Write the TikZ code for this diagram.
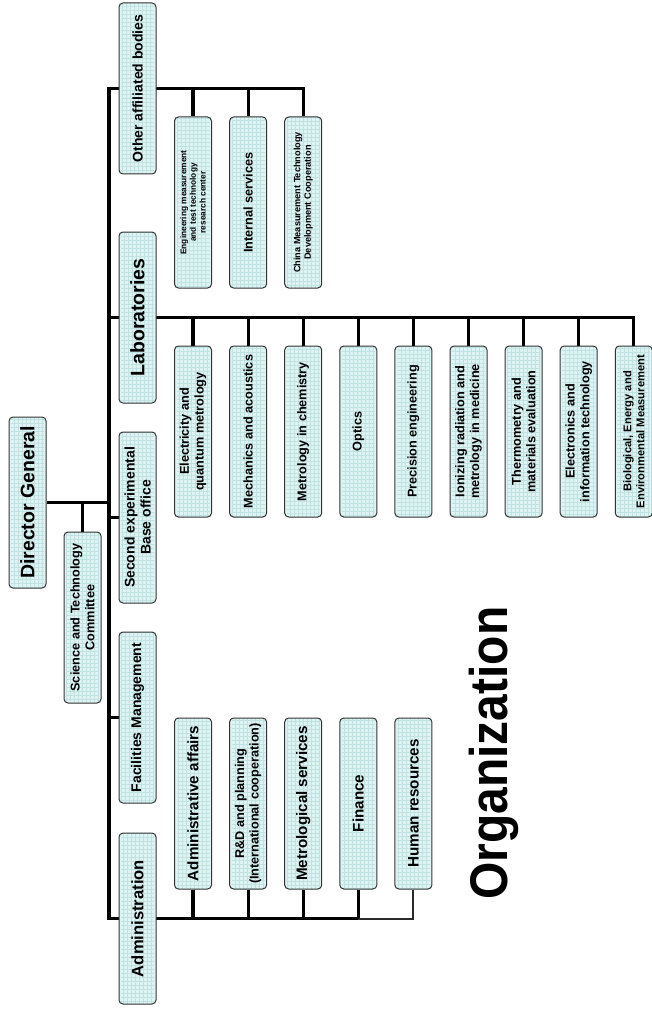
\documentclass[tikz,border=0pt]{standalone}
\usepackage{fontspec}
\usepackage{graphicx}
\setmainfont{Liberation Sans}
\usetikzlibrary{calc}
\pgfdeclarelayer{background}
\pgfsetlayers{background,main}
\definecolor{boxfill}{HTML}{E0F3F3}
\definecolor{gridc}{HTML}{BFE3E3}
\definecolor{boxline}{HTML}{333333}
\definecolor{thinline}{HTML}{2A2A2A}
\tikzset{
  orgbox/.style={rotate=90, draw=boxline, line width=1pt, rounded corners=4pt,
    fill=boxfill, minimum width=171pt, minimum height=37pt, inner sep=1pt,
    align=center, text=black,
    path picture={\draw[gridc, line width=0.3pt, step=4pt]
      ([shift={(-2pt,-2pt)}]path picture bounding box.south west) grid
      ([shift={(2pt,2pt)}]path picture bounding box.north east);}},
  fbig/.style={font=\bfseries\fontsize{19.5}{22}\selectfont},
  fmid/.style={font=\bfseries\fontsize{14}{16}\selectfont},
  fadm/.style={font=\bfseries\fontsize{15.2}{17}\selectfont},
  flab/.style={font=\bfseries\fontsize{12.7}{14.6}\selectfont},
  fsmall/.style={font=\bfseries\fontsize{11.2}{13}\selectfont},
  ftiny/.style={font=\bfseries\fontsize{8.3}{9.6}\selectfont},
  fchina/.style={font=\bfseries\fontsize{9.2}{10.6}\selectfont},
  conn/.style={line width=3.2pt, black},
  thinconn/.style={line width=2pt, thinline},
}
\begin{document}
\begin{tikzpicture}[x=1pt, y=-1pt]
\useasboundingbox (0,0) rectangle (651,1011);

% top level
\node[orgbox, fbig] (dg) at (27.5,502.5) {Director General};
\node[orgbox, flab] (sci) at (82.5,617.5) {Science and Technology\\Committee};

% second level
\node[orgbox, fmid] (oth) at (137.5,88.5) {Other affiliated bodies};
\node[orgbox, fbig] (lab) at (137.5,317.5) {Laboratories};
\node[orgbox, fmid] (sec) at (137.5,517.5) {Second experimental\\Base office};
\node[orgbox, fmid] (fac) at (137.5,717.5) {Facilities Management};
\node[orgbox, font=\bfseries\fontsize{16.6}{19}\selectfont] (adm) at (137.5,918.5) {Administration};

% other affiliated bodies
\node[orgbox, ftiny] (o1) at (193.0,202.5) {Engineering measurement\\and test technology\\research center};
\node[orgbox, flab] (o2) at (248.1,202.5) {Internal services};
\node[orgbox, fchina] (o3) at (303.2,202.5) {China Measurement Technology\\Development Cooperation};

% laboratories
\node[orgbox, flab] (l1) at (193.0,431.5) {Electricity and\\quantum metrology};
\node[orgbox, flab] (l2) at (248.1,431.5) {Mechanics and acoustics};
\node[orgbox, flab] (l3) at (303.2,431.5) {Metrology in chemistry};
\node[orgbox, flab] (l4) at (358.3,431.5) {Optics};
\node[orgbox, flab] (l5) at (413.4,431.5) {Precision engineering};
\node[orgbox, flab] (l6) at (468.5,431.5) {Ionizing radiation and\\metrology in medicine};
\node[orgbox, flab] (l7) at (523.6,431.5) {Thermometry and\\materials evaluation};
\node[orgbox, flab] (l8) at (578.7,431.5) {Electronics and\\information technology};
\node[orgbox, fsmall] (l9) at (633.8,431.5) {Biological, Energy and\\Environmental Measurement};

% administration
\node[orgbox, fadm] (a1) at (193.0,803.5) {Administrative affairs};
\node[orgbox, flab] (a2) at (248.1,803.5) {R\&D and planning\\(International cooperation)};
\node[orgbox, fadm] (a3) at (303.2,803.5) {Metrological services};
\node[orgbox, fadm] (a4) at (358.3,803.5) {Finance};
\node[orgbox, fadm] (a5) at (413.4,803.5) {Human resources};

% title
\node[rotate=90, anchor=base west, inner sep=0pt,
      font=\bfseries\fontsize{53}{60}\selectfont] (org) at (507,900)
      {\scalebox{0.905}[1]{Organization}};

\coordinate (mtop) at (109,88.5);
\coordinate (mbot) at (109,918.5);

\begin{pgfonlayer}{background}
  % director general and committee
  \draw[conn] (dg.south) -- (dg.south -| mtop);
  \draw[conn] (sci.east |- dg.south) -- (sci.east);
  % main spine with other bodies and administration
  \draw[conn] (o3.east) -- (o3.east |- oth.center) -- (mtop) -- (mbot)
              -- (a4.west |- adm.center) -- (a4.west);
  \draw[thinconn] (a4.west |- adm.center) -- (a5.west |- adm.center) -- (a5.west);
  \foreach \n in {o1,o2} \draw[conn] (\n.east) -- (\n.east |- oth.center);
  \foreach \n in {a1,a2,a3} \draw[conn] (\n.west) -- (\n.west |- adm.center);
  % laboratories
  \draw[conn] (lab.center -| mtop) -- (l9.east |- lab.center) -- (l9.east);
  \foreach \n in {l1,l2,l3,l4,l5,l6,l7,l8} \draw[conn] (\n.east) -- (\n.east |- lab.center);
  % stubs
  \draw[conn] (sec.center -| mtop) -- (sec.north);
  \draw[conn] (fac.center -| mtop) -- (fac.north);
\end{pgfonlayer}
\end{tikzpicture}
\end{document}
